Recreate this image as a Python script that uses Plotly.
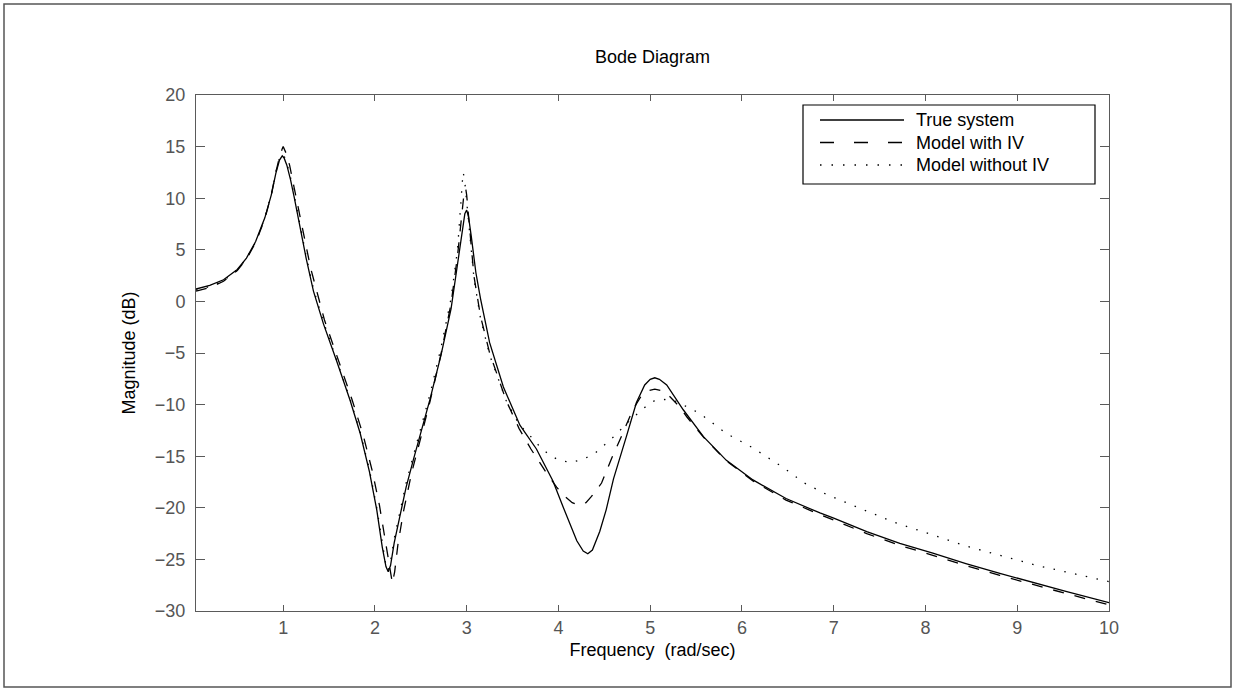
import plotly.graph_objects as go

# ---------------- data ----------------
true_freq = [0.05, 0.2, 0.35, 0.5, 0.6, 0.7, 0.8, 0.87, 0.92, 0.96, 0.99, 1.01, 1.04, 1.08,
             1.12, 1.18, 1.25, 1.33, 1.44, 1.58, 1.73, 1.84, 1.94, 2.02, 2.08, 2.12, 2.145,
             2.17, 2.21, 2.27, 2.34, 2.42, 2.5, 2.6, 2.72, 2.83, 2.9, 2.95, 2.98, 3.0, 3.02,
             3.05, 3.1, 3.15, 3.25, 3.4, 3.58, 3.76, 3.94, 4.05, 4.12, 4.2, 4.27, 4.32, 4.37,
             4.45, 4.52, 4.6, 4.74, 4.85, 4.94, 5.0, 5.05, 5.1, 5.18, 5.36, 5.58, 5.83, 6.12,
             6.48, 6.85, 7.0, 7.36, 7.72, 8.08, 8.44, 8.81, 9.17, 9.53, 10.0]
true_db = [1.2, 1.55, 2.1, 3.1, 4.2, 5.8, 8.1, 10.3, 12.4, 13.7, 14.1, 13.9, 13.2, 11.8,
           10.1, 7.3, 4.2, 1.0, -2.2, -5.7, -9.6, -12.8, -16.5, -20.2, -23.8, -25.7, -26.2,
           -25.6, -23.4, -20.9, -18.0, -15.3, -12.8, -9.5, -5.2, -0.7, 3.6, 7.0, 8.5, 8.85, 8.2,
           6.3, 2.8, 0.3, -4.0, -8.3, -12.0, -14.3, -17.4, -19.9, -21.4, -23.2, -24.2, -24.45, -24.1,
           -22.3, -20.2, -17.2, -13.1, -9.8, -8.1, -7.55, -7.4, -7.55, -8.1, -10.5, -13.1, -15.4, -17.3,
           -19.1, -20.5, -21.0, -22.3, -23.45, -24.4, -25.4, -26.35, -27.25, -28.1, -29.2]

iv_freq = [0.05, 0.2, 0.35, 0.5, 0.6, 0.7, 0.8, 0.87, 0.92, 0.96, 0.99, 1.0, 1.03, 1.07,
           1.12, 1.2, 1.3, 1.45, 1.6, 1.75, 1.87, 1.97, 2.05, 2.11, 2.16, 2.19, 2.215, 2.25,
           2.31, 2.4, 2.5, 2.6, 2.72, 2.83, 2.9, 2.95, 2.975, 2.99, 3.0, 3.03, 3.08, 3.15, 3.25,
           3.43, 3.57, 3.7, 3.86, 3.98, 4.07, 4.15, 4.23, 4.3, 4.36, 4.47, 4.58, 4.7, 4.81, 4.9,
           4.98, 5.05, 5.12, 5.2, 5.32, 5.4, 5.58, 5.83, 6.12, 6.48, 6.85, 7.36, 7.72, 8.08, 8.44,
           8.81, 9.17, 9.53, 10.0]
iv_db = [1.0, 1.35, 1.95, 3.0, 4.1, 5.7, 8.0, 10.3, 12.5, 14.0, 14.8, 15.0, 14.4, 13.2,
         11.0, 7.4, 3.2, -1.8, -5.6, -9.5, -12.9, -16.4, -19.8, -22.9, -25.8, -27.3, -26.2, -23.6,
         -20.4, -16.6, -13.2, -9.7, -5.1, -0.2, 4.4, 8.6, 10.8, 10.9, 10.3, 7.3, 2.4, -1.4, -5.0,
         -9.6, -12.3, -14.3, -16.5, -18.0, -18.9, -19.5, -19.75, -19.5, -18.9, -17.6, -15.2, -12.8, -10.5, -9.2,
         -8.65, -8.5, -8.65, -9.1, -10.2, -11.2, -13.15, -15.45, -17.4, -19.25, -20.65, -22.5, -23.65, -24.6, -25.6,
         -26.55, -27.45, -28.3, -29.4]

noiv_freq = [0.05, 0.2, 0.35, 0.5, 0.6, 0.7, 0.8, 0.87, 0.92, 0.96, 0.99, 1.01, 1.04, 1.08,
             1.12, 1.18, 1.25, 1.33, 1.44, 1.58, 1.73, 1.84, 1.94, 2.02, 2.08, 2.12, 2.14, 2.165,
             2.21, 2.27, 2.34, 2.42, 2.5, 2.6, 2.72, 2.83, 2.9, 2.94, 2.96, 2.975, 3.0, 3.03, 3.08,
             3.15, 3.25, 3.43, 3.57, 3.72, 3.8, 3.905, 4.01, 4.14, 4.27, 4.4, 4.58, 4.76, 4.92, 5.05,
             5.16, 5.285, 5.54, 5.83, 6.12, 6.45, 6.68, 6.92, 7.155, 7.41, 7.66, 7.92, 8.17, 8.44,
             8.7, 8.97, 9.22, 9.5, 9.77, 10.0]
noiv_db = [1.1, 1.45, 2.0, 3.05, 4.15, 5.75, 8.1, 10.4, 12.5, 13.9, 14.3, 14.1, 13.4, 12.0,
           10.3, 7.5, 4.4, 1.2, -2.0, -5.6, -9.5, -12.7, -16.3, -20.0, -23.6, -25.6, -26.1, -25.5,
           -23.0, -20.4, -17.6, -14.9, -12.3, -9.0, -4.5, 0.3, 5.0, 9.5, 12.5, 12.0, 9.8, 6.8, 2.2,
           -1.6, -5.2, -9.6, -11.9, -13.3, -14.1, -14.9, -15.4, -15.6, -15.3, -14.7, -13.3, -11.7, -10.4, -9.6,
           -9.5, -9.7, -10.85, -12.8, -14.2, -16.1, -17.6, -18.7, -19.6, -20.5, -21.4, -22.2, -22.9, -23.7,
           -24.35, -25.0, -25.6, -26.15, -26.7, -27.15]

series_names = ["True system", "Model with IV", "Model without IV"]
x_ticks = [1, 2, 3, 4, 5, 6, 7, 8, 9, 10]
y_ticks = [-30, -25, -20, -15, -10, -5, 0, 5, 10, 15, 20]

# ---------------- layout geometry ----------------
W, H = 1235, 691
L, R, T, B = 196, 1109, 95, 611   # plot-area pixel box


def px(xp):
    return (xp - L) / (R - L)


def py(yp):
    return (B - yp) / (B - T)


FONT = "Liberation Sans, Arial, Helvetica, sans-serif"
AXC = "#5a5a5a"

styles = [dict(color="black", width=1.3, dash="solid"),
          dict(color="black", width=1.3, dash="11px,11px"),
          dict(color="black", width=1.3, dash="1.5px,9.5px")]
legend_styles = [dict(color="black", width=1.3, dash="solid"),
                 dict(color="black", width=1.3, dash="14px,20px"),
                 dict(color="black", width=1.3, dash="1.5px,10px")]

fig = go.Figure()
for name, xs, ys, st in zip(series_names, [true_freq, iv_freq, noiv_freq],
                            [true_db, iv_db, noiv_db], styles):
    fig.add_trace(go.Scatter(x=xs, y=ys, mode="lines", name=name, line=st,
                             showlegend=False))

shapes = []
annotations = []
# outer figure frame
shapes.append(dict(type="rect", xref="paper", yref="paper",
                   x0=px(4), x1=px(1231), y0=py(687), y1=py(4),
                   line=dict(color="#555555", width=1.5)))
# legend box
shapes.append(dict(type="rect", xref="paper", yref="paper",
                   x0=px(803), x1=px(1095), y0=py(184), y1=py(105),
                   line=dict(color="black", width=1.2), fillcolor="white", layer="above"))
row_y = [120, 142.5, 165]
for name, st, ry in zip(series_names, legend_styles, row_y):
    shapes.append(dict(type="line", xref="paper", yref="paper",
                       x0=px(820), x1=px(904), y0=py(ry), y1=py(ry),
                       line=st, layer="above"))
    annotations.append(dict(text=name, xref="paper", yref="paper", x=px(914), y=py(ry),
                            xanchor="left", yanchor="middle", showarrow=False,
                            font=dict(family=FONT, size=18, color="black")))

fig.update_layout(
    width=W, height=H,
    margin=dict(l=L, r=W - R, t=T, b=H - B, pad=0),
    paper_bgcolor="white", plot_bgcolor="white",
    title=dict(text="Bode Diagram", x=(L + R) / 2 / W, xanchor="center",
               y=1 - 57 / H, yanchor="middle",
               font=dict(family=FONT, size=18, color="black")),
    xaxis=dict(range=[0.05, 10], tickvals=x_ticks, ticks="inside", ticklen=6,
               tickcolor=AXC, showline=True, linecolor=AXC, linewidth=1, mirror="ticks",
               showgrid=False, zeroline=False,
               tickfont=dict(family=FONT, size=18, color="#555555"),
               title=dict(text="Frequency \u00a0(rad/sec)", standoff=6,
                          font=dict(family=FONT, size=18, color="black"))),
    yaxis=dict(range=[-30, 20], tickvals=y_ticks, ticks="inside", ticklen=9,
               tickcolor=AXC, showline=True, linecolor=AXC, linewidth=1, mirror="ticks",
               showgrid=False, zeroline=False, ticklabelstandoff=6,
               tickfont=dict(family=FONT, size=18, color="#555555"),
               title=dict(text="Magnitude (dB)", standoff=14,
                          font=dict(family=FONT, size=18, color="black"))),
    shapes=shapes,
    annotations=annotations,
)

fig.write_html("out.html", config={"displayModeBar": False},
               post_script="document.body.style.margin='0';")
